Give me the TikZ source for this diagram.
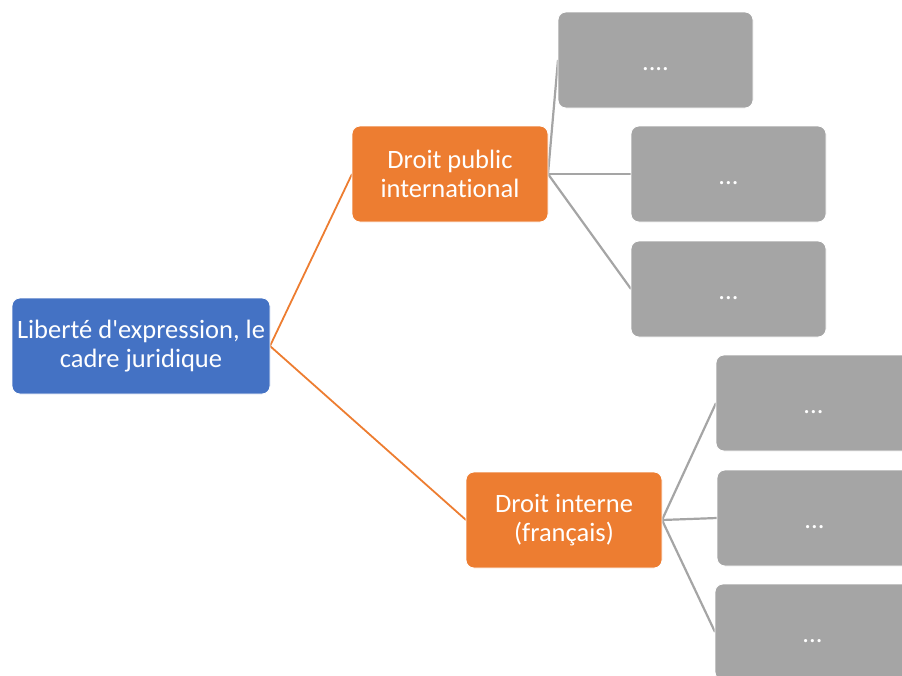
\documentclass[tikz,border=0pt]{standalone}
\usepackage{fontspec}
% Carlito without TeX ligatures keeps the straight apostrophe and plain "ti"
\newfontfamily\boxfont{Carlito}[Ligatures={NoCommon}]
\definecolor{rootblue}{HTML}{4472C4}
\definecolor{branchorange}{HTML}{ED7D31}
\definecolor{leafgray}{HTML}{A5A5A5}
\newcommand{\dotsbelow}[1]{\raisebox{-10pt}[0pt][0pt]{#1}}
\begin{document}
\begin{tikzpicture}[x=1pt,y=-1pt,
  box/.style={rectangle, rounded corners=8pt, draw=white, line width=0.8pt,
    text=white, align=center, minimum height=96pt, inner sep=0pt,
    font=\boxfont\fontsize{26.5}{29}\selectfont},
  rootbox/.style={box, fill=rootblue, minimum width=258pt},
  branchbox/.style={box, fill=branchorange, minimum width=196pt},
  leafbox/.style={box, fill=leafgray, minimum width=195pt},
  branchlink/.style={draw=branchorange, line width=1.8pt},
  leaflink/.style={draw=leafgray, line width=2.2pt}]
\useasboundingbox (0,0) rectangle (902,675);
\clip (0,0) rectangle (902,675);

% connectors
\coordinate (rE) at (270,346);
\coordinate (aW) at (352,174);
\coordinate (bW) at (466,520);
\draw[branchlink] (rE) -- (aW);
\draw[branchlink] (rE) -- (bW);

\coordinate (aE) at (548,174);
\coordinate (bE) at (662,520);
\draw[leaflink] (aE) -- (558,60);
\draw[leaflink] (aE) -- (631,174);
\draw[leaflink] (aE) -- (631,289);
\draw[leaflink] (bE) -- (716,403);
\draw[leaflink] (bE) -- (717,518);
\draw[leaflink] (bE) -- (715,632);

% boxes
\node[rootbox] (root) at (141,346) {Liberté d'expression, le\\cadre juridique};
\node[branchbox] (a) at (450,174) {Droit public\\international};
\node[branchbox] (b) at (564,520) {Droit interne\\(français)};
\node[leafbox] (a1) at (655.5,60) {\dotsbelow{....}};
\node[leafbox] (a2) at (728.5,174) {\dotsbelow{...}};
\node[leafbox] (a3) at (728.5,289) {\dotsbelow{...}};
\node[leafbox] (b1) at (813.5,403) {\dotsbelow{...}};
\node[leafbox] (b2) at (814.5,518) {\dotsbelow{...}};
\node[leafbox] (b3) at (812.5,632) {\dotsbelow{...}};
\end{tikzpicture}
\end{document}
